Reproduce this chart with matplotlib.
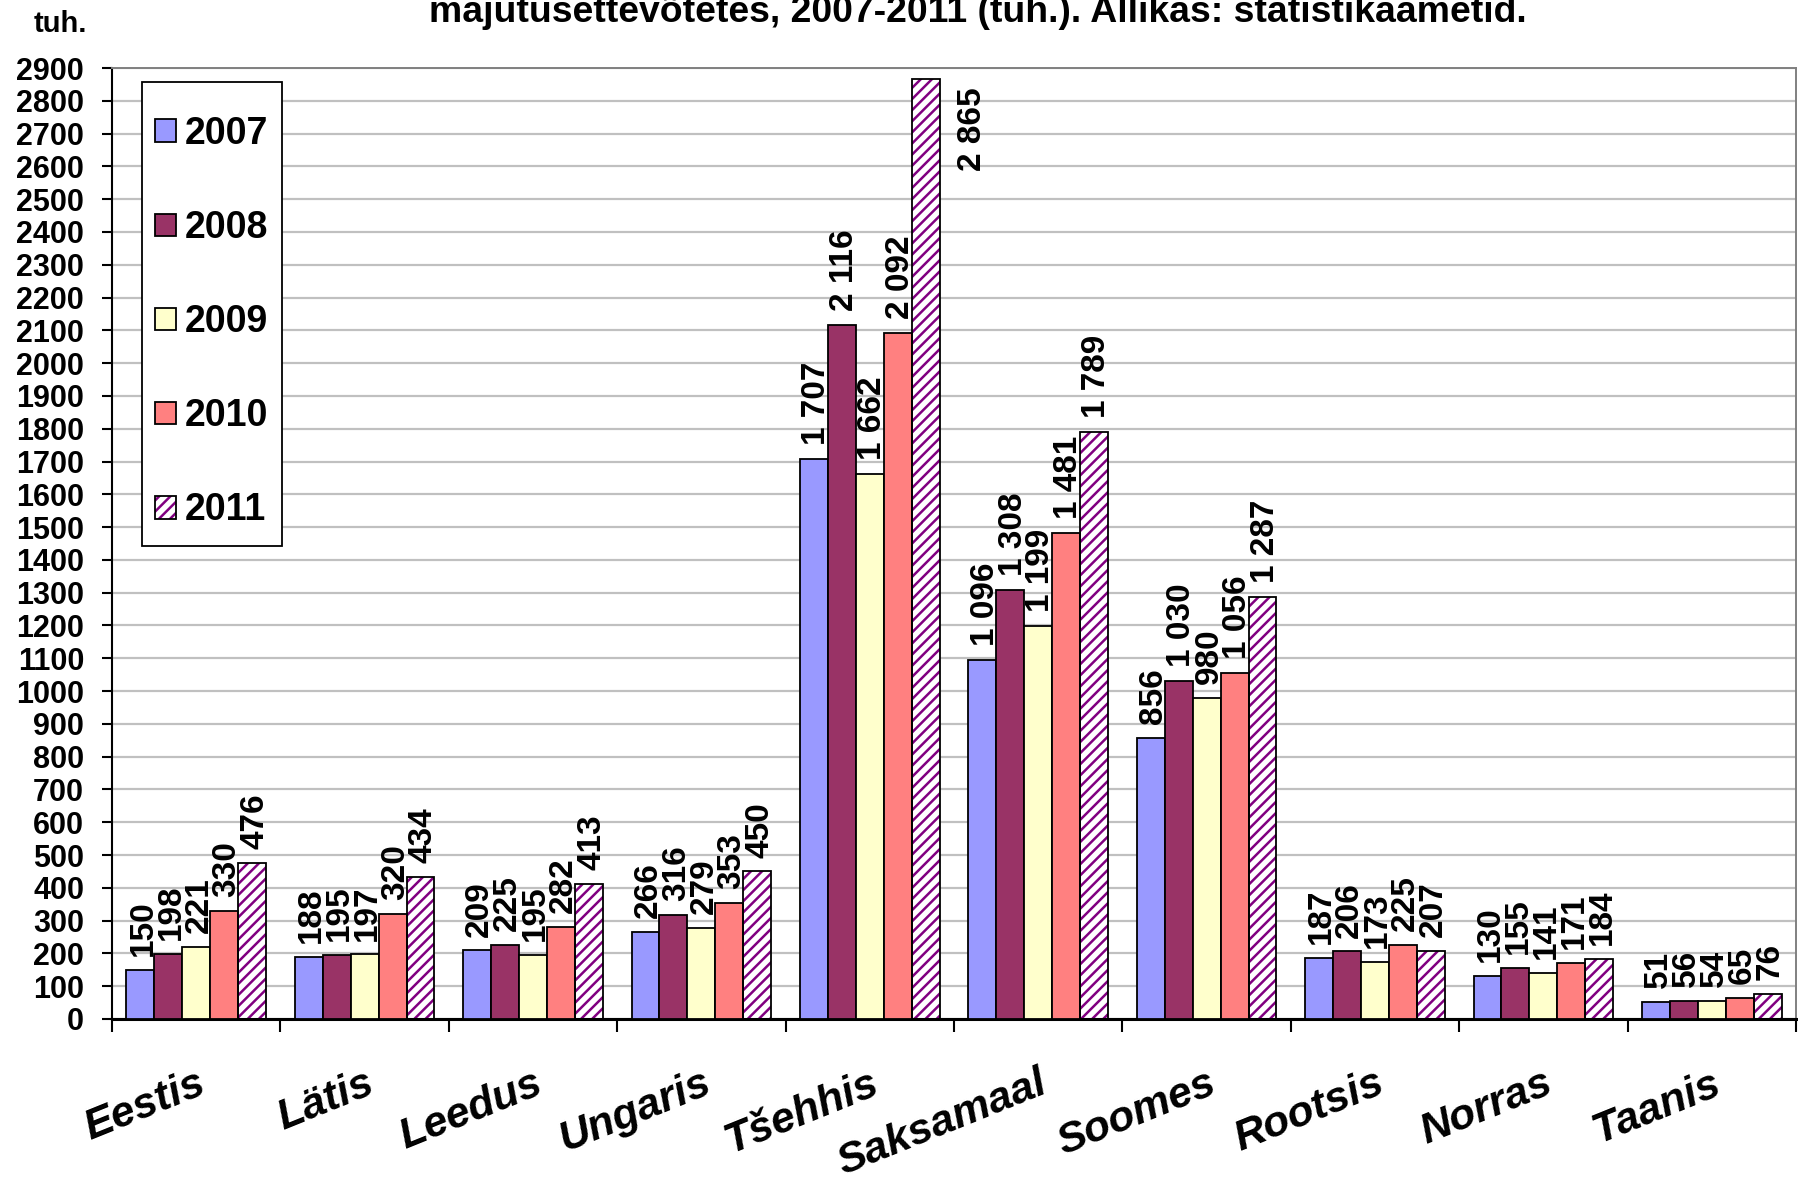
import matplotlib
matplotlib.use("Agg")
import matplotlib.pyplot as plt
from matplotlib.legend_handler import HandlerTuple
from matplotlib.patches import Rectangle
import numpy as np

# data (tuh.)
countries = ["Eestis", "Lätis", "Leedus", "Ungaris", "Tšehhis",
             "Saksamaal", "Soomes", "Rootsis", "Norras", "Taanis"]
years = ["2007", "2008", "2009", "2010", "2011"]
v2007 = [150, 188, 209, 266, 1707, 1096, 856, 187, 130, 51]
v2008 = [198, 195, 225, 316, 2116, 1308, 1030, 206, 155, 56]
v2009 = [221, 197, 195, 279, 1662, 1199, 980, 173, 141, 54]
v2010 = [330, 320, 282, 353, 2092, 1481, 1056, 225, 171, 65]
v2011 = [476, 434, 413, 450, 2865, 1789, 1287, 207, 184, 76]
series = [v2007, v2008, v2009, v2010, v2011]

colors = ["#9999FF", "#993366", "#FFFFCC", "#FF8080", "white"]
hatch_color = "#800080"

FONT = "Liberation Sans"
plt.rcParams["font.family"] = [FONT, "DejaVu Sans"]
plt.rcParams["hatch.linewidth"] = 1.8

W, H = 1798, 1181
fig = plt.figure(figsize=(W / 100, H / 100), dpi=100)
ax = fig.add_axes([112 / W, 162 / H, (1796 - 112) / W, (1019 - 68) / H])

n = len(countries)
centers = np.arange(n) + 0.5
w = 0.166

handles = []
for k, vals in enumerate(series):
    xs = centers + (k - 2) * w
    if k == 4:
        hb = ax.bar(xs, vals, w, color="white", edgecolor=hatch_color,
                    hatch="///", linewidth=0, zorder=2)
        ob = ax.bar(xs, vals, w, color="none", edgecolor="black",
                    linewidth=1.3, zorder=3)
        handles.append((hb[0], ob[0]))
    else:
        b = ax.bar(xs, vals, w, color=colors[k], edgecolor="black",
                   linewidth=1.3, zorder=3)
        handles.append(b[0])
    for x, v in zip(xs, vals):
        txt = f"{v:,}".replace(",", " ")
        if v > 2700:
            # too tall: the label goes beside the bar
            ax.annotate(txt, (x, v), xytext=(34, -6), textcoords="offset points",
                        rotation=90, ha="center", va="top", fontsize=24,
                        fontweight="bold", zorder=5)
        else:
            ax.annotate(txt, (x, v), xytext=(2, 10), textcoords="offset points",
                        rotation=90, ha="center", va="bottom", fontsize=24,
                        fontweight="bold", zorder=5)

ax.set_xlim(0, n)
ax.set_ylim(0, 2900)
ax.set_yticks(np.arange(0, 3000, 100))
ax.yaxis.grid(True, color="#C0C0C0", linewidth=1.6, zorder=0)
ax.set_axisbelow(True)
ax.tick_params(axis="y", direction="out", length=7, width=1.5, pad=13,
               labelsize=22)
for lab in ax.get_yticklabels():
    lab.set_fontweight("bold")

ax.set_xticks(np.arange(0, n + 1))
ax.set_xticklabels([])
ax.tick_params(axis="x", which="major", direction="out", length=9, width=1.5)
ax.set_xticks(centers, minor=True)
ax.set_xticklabels(countries, minor=True, rotation=22, ha="right", va="top",
                   rotation_mode="anchor", fontsize=31, fontweight="bold",
                   fontstyle="italic")
ax.tick_params(axis="x", which="minor", length=0, pad=32)

ax.spines["left"].set_linewidth(1.5)
ax.spines["bottom"].set_linewidth(2.2)
for s in ("top", "right"):
    ax.spines[s].set_color("#808080")
    ax.spines[s].set_linewidth(1.4)

# legend box drawn separately so its padding can match the original
box = Rectangle((142 / W, 1 - 546 / H), 140 / W, 464 / H,
                transform=fig.transFigure, facecolor="white",
                edgecolor="black", linewidth=1.3, zorder=4.5, clip_on=False)
ax.add_patch(box)
leg = ax.legend(handles, years, loc="upper left",
                bbox_to_anchor=(140 / W, 1 - 101 / H),
                bbox_transform=fig.transFigure,
                handler_map={tuple: HandlerTuple(ndivide=1)},
                prop={"family": FONT, "weight": "bold", "size": 27},
                frameon=False, borderpad=0.4, labelspacing=1.55,
                handlelength=0.55, handleheight=0.55, handletextpad=0.25,
                borderaxespad=0)
leg.set_zorder(6)

fig.text(34 / W, 1 - 32 / H, "tuh.", fontsize=21, fontweight="bold",
         ha="left", va="baseline")
title = fig.text(978 / W, 1 - 22 / H,
                 "majutusettevõtetes, 2007-2011 (tuh.). Allikas: statistikaametid.",
                 fontsize=24, fontweight="bold", ha="center", va="baseline")
fig.canvas.draw()
bb = title.get_window_extent()
title.set_fontsize(title.get_fontsize() * 1100 / bb.width)

fig.savefig("out.png", dpi=100, facecolor="white")
